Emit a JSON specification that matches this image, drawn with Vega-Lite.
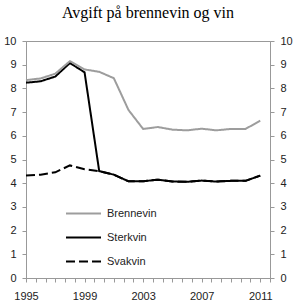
{
  "$schema": "https://vega.github.io/schema/vega-lite/v6.json",
  "width": 244,
  "height": 237,
  "autosize": {"type": "none"},
  "padding": {"left": 26, "top": 41, "right": 30, "bottom": 25},
  "background": "white",
  "title": {"text": "Avgift på brennevin og vin", "font": "Liberation Serif", "fontSize": 16, "fontWeight": "normal", "color": "#000000", "anchor": "middle", "offset": 14},
  "config": {
    "view": {"stroke": "#999999", "strokeWidth": 1},
    "axis": {"domainColor": "#999999", "tickColor": "#999999", "tickSize": 4, "grid": false, "labelFont": "Liberation Sans", "labelFontSize": 11, "labelColor": "#222222", "title": null}
  },
  "data": {"values": [
    {"year": 1995, "series": "Svakvin", "v": 4.32},
    {"year": 1996, "series": "Svakvin", "v": 4.36},
    {"year": 1997, "series": "Svakvin", "v": 4.46},
    {"year": 1998, "series": "Svakvin", "v": 4.75},
    {"year": 1999, "series": "Svakvin", "v": 4.59},
    {"year": 2000, "series": "Svakvin", "v": 4.51},
    {"year": 2001, "series": "Svakvin", "v": 4.36},
    {"year": 2002, "series": "Svakvin", "v": 4.08},
    {"year": 2003, "series": "Svakvin", "v": 4.08},
    {"year": 2004, "series": "Svakvin", "v": 4.15},
    {"year": 2005, "series": "Svakvin", "v": 4.07},
    {"year": 2006, "series": "Svakvin", "v": 4.06},
    {"year": 2007, "series": "Svakvin", "v": 4.11},
    {"year": 2008, "series": "Svakvin", "v": 4.07},
    {"year": 2009, "series": "Svakvin", "v": 4.1},
    {"year": 2010, "series": "Svakvin", "v": 4.1},
    {"year": 2011, "series": "Svakvin", "v": 4.32},
    {"year": 1995, "series": "Sterkvin", "v": 8.24},
    {"year": 1996, "series": "Sterkvin", "v": 8.3},
    {"year": 1997, "series": "Sterkvin", "v": 8.5},
    {"year": 1998, "series": "Sterkvin", "v": 9.07},
    {"year": 1999, "series": "Sterkvin", "v": 8.68},
    {"year": 2000, "series": "Sterkvin", "v": 4.51},
    {"year": 2001, "series": "Sterkvin", "v": 4.36},
    {"year": 2002, "series": "Sterkvin", "v": 4.08},
    {"year": 2003, "series": "Sterkvin", "v": 4.08},
    {"year": 2004, "series": "Sterkvin", "v": 4.15},
    {"year": 2005, "series": "Sterkvin", "v": 4.07},
    {"year": 2006, "series": "Sterkvin", "v": 4.06},
    {"year": 2007, "series": "Sterkvin", "v": 4.11},
    {"year": 2008, "series": "Sterkvin", "v": 4.07},
    {"year": 2009, "series": "Sterkvin", "v": 4.1},
    {"year": 2010, "series": "Sterkvin", "v": 4.1},
    {"year": 2011, "series": "Sterkvin", "v": 4.32},
    {"year": 1995, "series": "Brennevin", "v": 8.35},
    {"year": 1996, "series": "Brennevin", "v": 8.42},
    {"year": 1997, "series": "Brennevin", "v": 8.62},
    {"year": 1998, "series": "Brennevin", "v": 9.15},
    {"year": 1999, "series": "Brennevin", "v": 8.8},
    {"year": 2000, "series": "Brennevin", "v": 8.7},
    {"year": 2001, "series": "Brennevin", "v": 8.43},
    {"year": 2002, "series": "Brennevin", "v": 7.09},
    {"year": 2003, "series": "Brennevin", "v": 6.29},
    {"year": 2004, "series": "Brennevin", "v": 6.37},
    {"year": 2005, "series": "Brennevin", "v": 6.26},
    {"year": 2006, "series": "Brennevin", "v": 6.23},
    {"year": 2007, "series": "Brennevin", "v": 6.3},
    {"year": 2008, "series": "Brennevin", "v": 6.23},
    {"year": 2009, "series": "Brennevin", "v": 6.29},
    {"year": 2010, "series": "Brennevin", "v": 6.29},
    {"year": 2011, "series": "Brennevin", "v": 6.64}
  ]},
  "layer": [
    {
      "mark": {"type": "line", "strokeWidth": 2},
      "encoding": {
        "x": {"field": "year", "type": "quantitative", "scale": {"domain": [1995, 2011.667], "nice": false, "zero": false},
          "axis": {"values": [1995, 1995.667, 1996.333, 1997, 1997.667, 1998.333, 1999, 1999.667, 2000.333, 2001, 2001.667, 2002.333, 2003, 2003.667, 2004.333, 2005, 2005.667, 2006.333, 2007, 2007.667, 2008.333, 2009, 2009.667, 2010.333, 2011, 2011.667],
            "labelExpr": "(datum.value == 1995 || datum.value == 1999 || datum.value == 2003 || datum.value == 2007 || datum.value == 2011) ? format(datum.value, 'd') : ''",
            "labelOverlap": false, "labelBound": false, "labelFlush": false, "labelPadding": 8}},
        "y": {"field": "v", "type": "quantitative", "scale": {"domain": [0, 10], "nice": false},
          "axis": {"values": [0,1,2,3,4,5,6,7,8,9,10], "labelPadding": 6, "orient": "left"}},
        "color": {"field": "series", "type": "nominal",
          "scale": {"domain": ["Brennevin", "Sterkvin", "Svakvin"], "range": ["#9d9d9d", "#000000", "#000000"]},
          "legend": {"orient": "none", "legendX": 39, "legendY": 154, "title": null, "symbolType": "stroke", "symbolSize": 1225, "symbolStrokeWidth": 2, "rowPadding": -11, "labelFont": "Liberation Sans", "labelFontSize": 11, "labelColor": "#222222", "labelOffset": 5, "padding": 0}},
        "strokeDash": {"field": "series", "type": "nominal",
          "scale": {"domain": ["Brennevin", "Sterkvin", "Svakvin"], "range": [[1, 0], [1, 0], [9, 4]]},
          "legend": null}
      }
    },
    {
      "mark": {"type": "rule", "opacity": 0},
      "encoding": {
        "y": {"field": "v", "type": "quantitative", "scale": {"domain": [0, 10], "nice": false},
          "axis": {"values": [0,1,2,3,4,5,6,7,8,9,10], "labelPadding": 6, "orient": "right"}}
      }
    }
  ],
  "resolve": {"axis": {"y": "independent"}}
}
